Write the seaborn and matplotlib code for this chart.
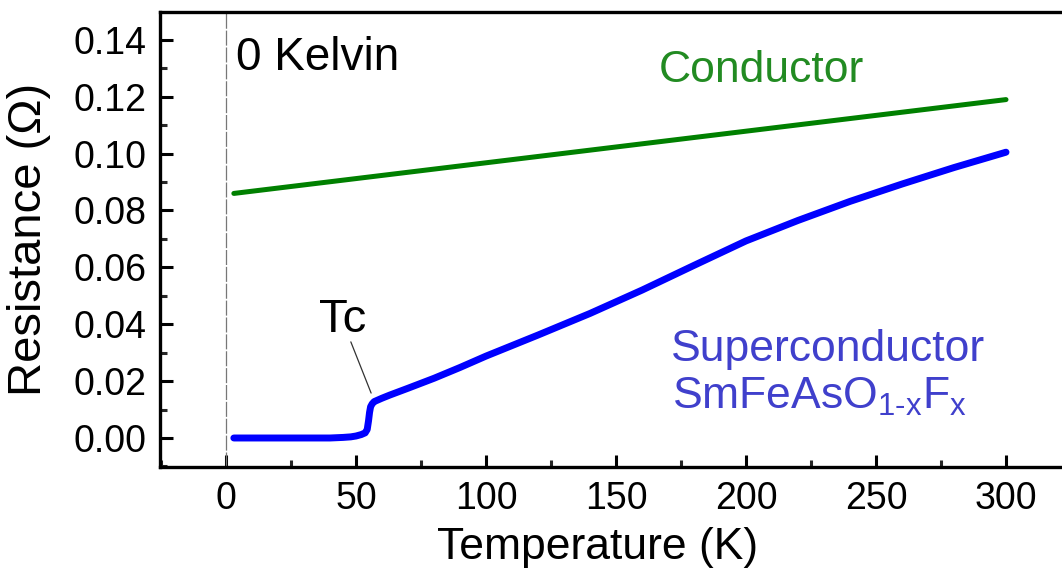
import numpy as np
import pandas as pd
import matplotlib
matplotlib.use("Agg")
import matplotlib.pyplot as plt
import seaborn as sns
from matplotlib.ticker import MultipleLocator

# Conductor: roughly linear metallic resistance
cond_T = [3, 300]
cond_R = [0.086, 0.119]

# Superconductor SmFeAsO1-xFx: zero below Tc, sharp jump near 55 K
sc_T = [3, 10, 20, 30, 40, 45, 48, 50, 52, 53.5, 54.3, 54.8, 55.2, 55.6, 56.2, 57, 60,
        63, 70, 80, 90, 100, 120, 140, 160, 180, 200, 220, 240, 260, 280, 300]
sc_R = [0.0, 0.0, 0.0, 0.0, 0.0, 0.0002, 0.0004, 0.0007, 0.0012, 0.0018, 0.003, 0.006,
        0.009, 0.0110, 0.0120, 0.0128, 0.0140, 0.0151, 0.0175, 0.0210, 0.0248, 0.0288,
        0.0362, 0.0438, 0.0520, 0.0607, 0.0693, 0.0765, 0.0832, 0.0893, 0.0951, 0.1005]

x_ticks = [0, 50, 100, 150, 200, 250, 300]
y_ticks = [0.00, 0.02, 0.04, 0.06, 0.08, 0.10, 0.12, 0.14]

sns.set_style("white")
plt.rcParams["font.family"] = ["Liberation Sans", "DejaVu Sans"]
plt.rcParams["mathtext.fontset"] = "custom"
plt.rcParams["mathtext.rm"] = "Liberation Sans"
plt.rcParams["text.color"] = "black"
plt.rcParams["axes.labelcolor"] = "black"

fig = plt.figure(figsize=(10.62, 5.74), dpi=100)
ax = fig.add_axes([160 / 1062, 1 - 467 / 574, (1071 - 160) / 1062, (467 - 12) / 574])

df_c = pd.DataFrame({"T": cond_T, "R": cond_R})
df_s = pd.DataFrame({"T": sc_T, "R": sc_R})

ax.axvline(0, color="#777777", lw=0.9, ls=(0, (12, 1.5)), zorder=1)
sns.lineplot(data=df_c, x="T", y="R", ax=ax, color="#008000", lw=3.6,
             solid_capstyle="round", zorder=3)
sns.lineplot(data=df_s, x="T", y="R", ax=ax, color="#0000ff", lw=5.0,
             solid_capstyle="round", zorder=3)

ax.set_xlim(-25.4, 325)
ax.set_ylim(-0.0102, 0.1498)
ax.set_xticks(x_ticks)
ax.set_yticks(y_ticks)
ax.set_yticklabels([f"{v:.2f}" for v in y_ticks])
ax.xaxis.set_minor_locator(MultipleLocator(25))
ax.yaxis.set_minor_locator(MultipleLocator(0.01))

for s in ax.spines.values():
    s.set_linewidth(2.4)
    s.set_color("black")

ax.tick_params(which="major", direction="in", length=9, width=2.2, labelsize=27,
               pad=10, colors="black", labelcolor="black", bottom=True, left=True)
ax.tick_params(which="minor", direction="in", length=5, width=2.2, bottom=True, left=True)

ax.set_xlabel("Temperature (K)", fontsize=32)
ax.set_ylabel("Resistance (Ω)", fontsize=34)
ax.xaxis.set_label_coords((598 - 160) / 911, -(548 - 467) / 455, transform=ax.transAxes)
ax.yaxis.set_label_coords(-(160 - 29) / 911, 0.5, transform=ax.transAxes)
ax.xaxis.label.set_va("center")
ax.yaxis.label.set_va("center")

ax.text(4, 0.1337, "0 Kelvin", fontsize=33, color="black", va="center", ha="left")
ax.text(206, 0.1294, "Conductor", fontsize=32, color="#228b22", va="center", ha="center")
ax.text(231.5, 0.031, "Superconductor", fontsize=32, color="#4040cc", va="center", ha="center")
ax.text(171.5, 0.0144, r"SmFeAsO$_{\mathregular{1\text{-}x}}$F$_{\mathregular{x}}$",
        fontsize=32, color="#4040cc", va="center", ha="left")

ax.text(45, 0.0415, "Tc", fontsize=34, color="black", ha="center", va="center")
ax.plot([48, 55.8], [0.0338, 0.0158], color="#333333", lw=0.9, zorder=2)

fig.savefig("out.png", dpi=100)
